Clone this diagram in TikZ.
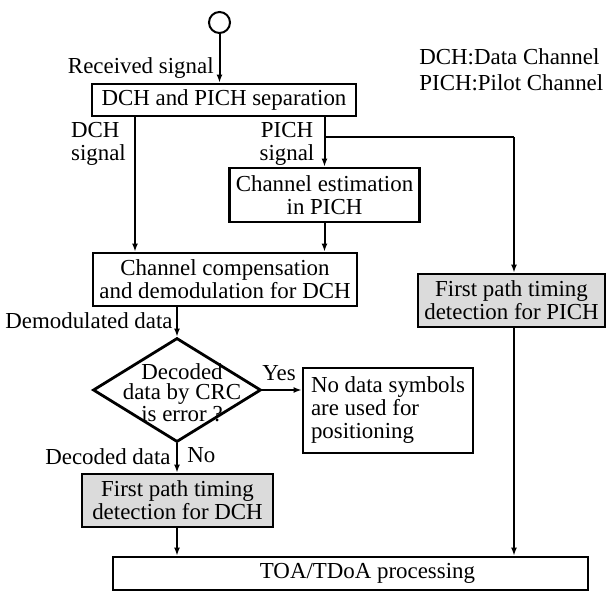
\documentclass[tikz,border=0pt]{standalone}
\usepackage{fontspec}
\setmainfont{Liberation Serif}
\usetikzlibrary{arrows.meta,shapes.geometric}
\begin{document}
\begin{tikzpicture}[x=0.5pt,y=-0.5pt,
 every node/.style={font=\fontsize{11.45}{11.5}\selectfont},
 box/.style={draw,line width=1.4pt,inner sep=0pt,align=center},
 shadedbox/.style={box,fill=gray!28},
 arr/.style={line width=1pt,-{Latex[length=4pt,width=3pt]}},
 plain/.style={line width=1pt},
 lbl/.style={inner sep=0pt}]
\useasboundingbox (0,0) rectangle (607,594);
% nodes
\node[circle,draw,line width=1pt,minimum size=10.5pt,inner sep=0pt] (start) at (219.5,22.5) {};
\node[box,minimum width=132pt,minimum height=16pt] (sep) at (224,100) {DCH and PICH separation};
\node[box,minimum width=95pt,minimum height=27pt] (chest) at (324.5,195) {Channel estimation\\in PICH};
\node[box,minimum width=132pt,minimum height=26.5pt] (comp) at (225,279.5) {Channel compensation\\and demodulation for DCH};
\node[shadedbox,minimum width=93.5pt,minimum height=26.5pt] (fpp) at (511.5,300.5) {First path timing\\detection for PICH};
\node[draw,diamond,line width=1.4pt,minimum width=84pt,minimum height=52pt,inner sep=0pt] (dec) at (177,390) {};
\node[lbl,align=center,font=\fontsize{11.45}{10}\selectfont] (dectext) at (182,393) {Decoded\\data by CRC\\is error ?};
\node[box,minimum width=85pt,minimum height=42.5pt,align=left] (nd) at (388,410.5) {No data symbols\\are used for\\positioning};
\node[shadedbox,minimum width=95.5pt,minimum height=26.5pt] (fpd) at (177.5,500.5) {First path timing\\detection for DCH};
\node[box,minimum width=237.5pt,minimum height=16.5pt,label={[xshift=8.5pt]center:TOA/TDoA processing}] (toa) at (350.5,573.5) {};
% labels
\node[lbl,anchor=east] (rs) at (214,68) {Received signal};
\node[lbl,align=left] (dcl) at (98.5,143.5) {DCH\\signal};
\node[lbl,align=center] (pcl) at (287,143.5) {PICH\\signal};
\node[lbl,anchor=east] (dml) at (173,321) {Demodulated data};
\node[lbl,anchor=west] (yes) at (262,373) {Yes};
\node[lbl,anchor=east] (ddl) at (171,457) {Decoded data};
\node[lbl,anchor=west] (no) at (187,455) {No};
\node[lbl,anchor=west] (leg1) at (419,57) {DCH:Data Channel};
\node[lbl,anchor=west] (leg2) at (419,83) {PICH:Pilot Channel};
% coordinates
\coordinate (xd) at (135,0);
\coordinate (br) at (324,137);
\coordinate (xr) at (514,0);
% connectors
\draw[arr] (start.south) -- (start.south |- sep.north);
\draw[arr] (sep.south -| xd) -- (comp.north -| xd);
\draw[arr] (sep.south -| chest.north) -- (chest.north);
\draw[plain] (br) -- (br -| xr);
\draw[arr] (br -| xr) -- (fpp.north -| xr);
\draw[arr] (chest.south) -- (comp.north -| chest.south);
\draw[arr] (comp.south -| dec.north) -- (dec.north);
\draw[arr] (dec.east) -- (dec.east -| nd.west);
\draw[arr] (dec.south) -- (fpd.north -| dec.south);
\draw[arr] (fpd.south -| dec.south) -- (toa.north -| dec.south);
\draw[arr] (fpp.south -| xr) -- (toa.north -| xr);
\end{tikzpicture}
\end{document}
